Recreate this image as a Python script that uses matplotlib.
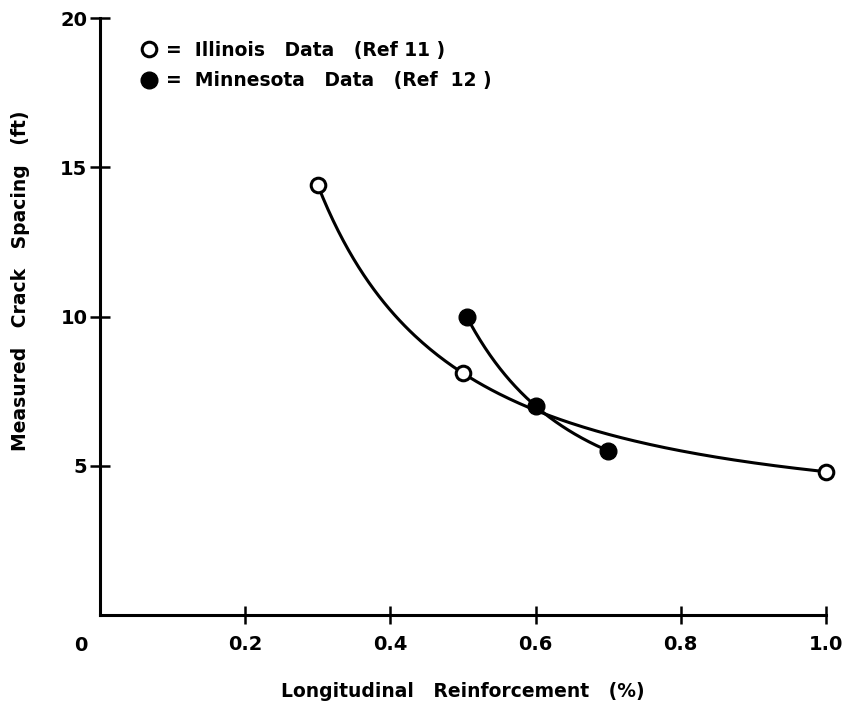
import numpy as np
import matplotlib
matplotlib.use('Agg')
import matplotlib.pyplot as plt

# values
illinois_x = [0.3, 0.5, 1.0]
illinois_y = [14.4, 8.1, 4.8]
minnesota_x = [0.505, 0.6, 0.7]
minnesota_y = [10.0, 7.0, 5.5]

x_ticks = [0.2, 0.4, 0.6, 0.8, 1.0]
x_ticklabels = ['0.2', '0.4', '0.6', '0.8', '1.0']
y_ticks = [5, 10, 15, 20]
y_ticklabels = ['5', '10', '15', '20']

illinois_label = '=  Illinois   Data   (Ref 11 )'
minnesota_label = '=  Minnesota   Data   (Ref  12 )'


def trend(xs, ys):
    # hand drawn curve through the points: quadratic in log-log space
    coef = np.polyfit(np.log(xs), np.log(ys), 2)
    xx = np.linspace(min(xs), max(xs), 200)
    return xx, np.exp(np.polyval(coef, np.log(xx)))


plt.rcParams['font.family'] = ['DejaVu Sans']
plt.rcParams['font.weight'] = 'bold'

fig = plt.figure(figsize=(8.46, 7.05), dpi=100)
ax = fig.add_axes([100 / 846, 90 / 705, 726 / 846, 597 / 705])

lw = 2.2
ax.plot(*trend(illinois_x, illinois_y), color='black', lw=lw, zorder=2)
ax.plot(*trend(minnesota_x, minnesota_y), color='black', lw=lw, zorder=2)

ill, = ax.plot(illinois_x, illinois_y, 'o', ms=10.5, mfc='white', mec='black',
               mew=2.2, clip_on=False, zorder=3, label=illinois_label)
minn, = ax.plot(minnesota_x, minnesota_y, 'o', ms=12, mfc='black', mec='black',
                clip_on=False, zorder=3, label=minnesota_label)

ax.set_xlim(0, 1.0)
ax.set_ylim(0, 20)
for side in ('top', 'right'):
    ax.spines[side].set_visible(False)
for side in ('left', 'bottom'):
    ax.spines[side].set_linewidth(lw)

ax.set_xticks(x_ticks, x_ticklabels)
ax.set_yticks(y_ticks, y_ticklabels)
ax.tick_params(axis='x', direction='inout', length=13, width=1.8, pad=8, labelsize=14)
ax.tick_params(axis='y', direction='inout', length=14, width=1.8, pad=2, labelsize=14)
ax.annotate('0', xy=(0, 0), xytext=(-14, -22), textcoords='offset points',
            ha='center', va='center', fontsize=14, fontweight='bold')

ax.set_xlabel('Longitudinal   Reinforcement   (%)', fontsize=13.5, fontweight='bold', labelpad=20)
ax.set_ylabel('Measured   Crack   Spacing   (ft)', fontsize=13.5, fontweight='bold')
ax.yaxis.set_label_coords(-0.097, 0.56)

ax.legend(handles=[ill, minn], loc='upper left', bbox_to_anchor=(0.034, 0.99),
          frameon=False, handlelength=0.8, handletextpad=0.5, labelspacing=0.6,
          fontsize=13.5, numpoints=1)

fig.savefig('out.png', dpi=100)
